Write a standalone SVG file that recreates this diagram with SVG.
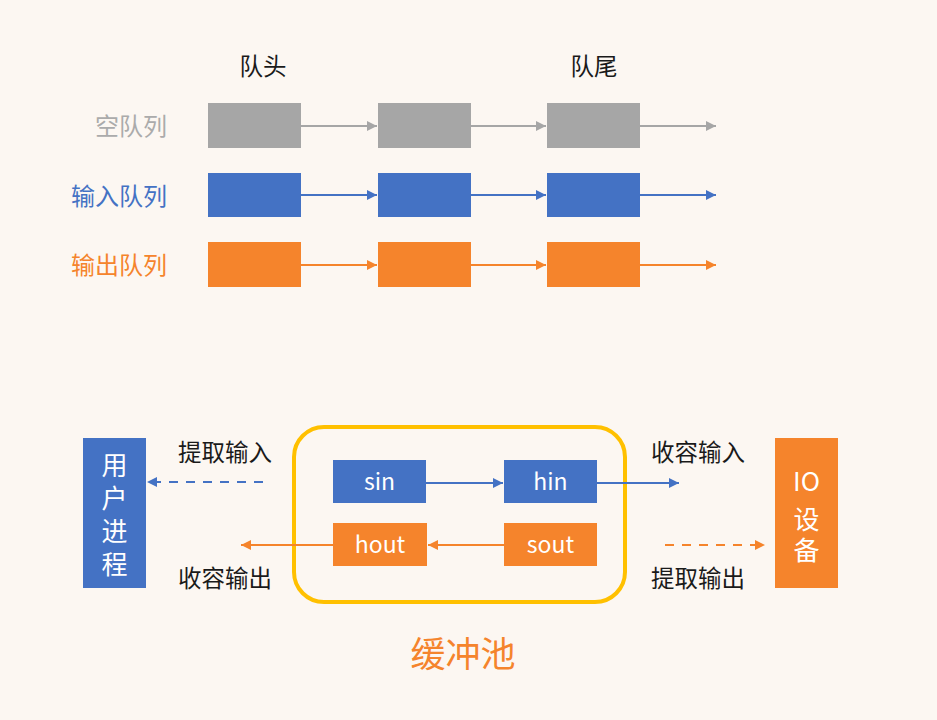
<svg xmlns="http://www.w3.org/2000/svg" width="937" height="720" viewBox="0 0 937 720">
<defs>
<style>
text{font-family:"Noto Sans CJK SC","Noto Sans",sans-serif;}
.lbl{font-size:23.5px;fill:#1a1a1a;}
.g{fill:#a6a6a6;}
.b{fill:#4472c4;}
.o{fill:#f5842c;}
.wt{fill:#ffffff;font-size:23px;text-anchor:middle;}
.vt{fill:#ffffff;font-size:26px;text-anchor:middle;}
.vv{writing-mode:vertical-rl;}
</style>
<marker id="ag" viewBox="0 0 10 10" refX="10" refY="5" markerWidth="5" markerHeight="5" orient="auto"><path d="M0,0L10,5L0,10z" fill="#a6a6a6"/></marker>
<marker id="ab" viewBox="0 0 10 10" refX="10" refY="5" markerWidth="5" markerHeight="5" orient="auto"><path d="M0,0L10,5L0,10z" fill="#4472c4"/></marker>
<marker id="ao" viewBox="0 0 10 10" refX="10" refY="5" markerWidth="5" markerHeight="5" orient="auto"><path d="M0,0L10,5L0,10z" fill="#f5842c"/></marker>
</defs>
<rect width="937" height="720" fill="#fcf7f2"/>

<text class="lbl" x="263" y="75" text-anchor="middle">队头</text>
<text class="lbl" x="594" y="75" text-anchor="middle">队尾</text>
<text x="167" y="135" text-anchor="end" font-size="24" fill="#ababab">空队列</text>
<text x="167" y="205" text-anchor="end" font-size="24" fill="#4472c4">输入队列</text>
<text x="167" y="274" text-anchor="end" font-size="24" fill="#f5842c">输出队列</text>

<g id="empty-queue">
<rect class="g" x="208" y="103" width="93" height="45"/>
<rect class="g" x="378" y="103" width="93" height="45"/>
<rect class="g" x="547" y="103" width="93" height="45"/>
</g>
<g id="input-queue">
<rect class="b" x="208" y="173" width="93" height="44"/>
<rect class="b" x="378" y="173" width="93" height="44"/>
<rect class="b" x="547" y="173" width="93" height="44"/>
</g>
<g id="output-queue">
<rect class="o" x="208" y="242" width="93" height="45"/>
<rect class="o" x="378" y="242" width="93" height="45"/>
<rect class="o" x="547" y="242" width="93" height="45"/>
</g>

<g id="user-process">
<rect class="b" x="83" y="438" width="63" height="150"/>
<text class="vt vv" x="114.5" y="518" letter-spacing="7">用户进程</text>
</g>
<g id="io-device">
<rect class="o" x="775" y="438" width="63" height="150"/>
<text class="vt" x="806.5" y="491">IO</text>
<text class="vt vv" x="806.5" y="537" letter-spacing="5">设备</text>
</g>
<g id="buffer-pool">
<rect x="294" y="427" width="331" height="175" rx="30" fill="none" stroke="#ffc000" stroke-width="4"/>
<text x="463" y="667" text-anchor="middle" font-size="35" fill="#f5842c">缓冲池</text>
</g>
<g id="sin"><rect class="b" x="333" y="460" width="93" height="43"/><text class="wt" x="379.5" y="490">sin</text></g>
<g id="hin"><rect class="b" x="504" y="460" width="93" height="43"/><text class="wt" x="550.5" y="490">hin</text></g>
<g id="hout"><rect class="o" x="333" y="523" width="94" height="43"/><text class="wt" x="380" y="553">hout</text></g>
<g id="sout"><rect class="o" x="504" y="523" width="93" height="43"/><text class="wt" x="550.5" y="553">sout</text></g>

<text class="lbl" x="225" y="461" text-anchor="middle">提取输入</text>
<text class="lbl" x="225" y="587" text-anchor="middle">收容输出</text>
<text class="lbl" x="698" y="461" text-anchor="middle">收容输入</text>
<text class="lbl" x="698" y="587" text-anchor="middle">提取输出</text>

<g id="connectors" fill="none" stroke-width="2">
<line x1="301" y1="126" x2="377" y2="126" stroke="#a6a6a6" marker-end="url(#ag)"/>
<line x1="471" y1="126" x2="546" y2="126" stroke="#a6a6a6" marker-end="url(#ag)"/>
<line x1="640" y1="126" x2="716" y2="126" stroke="#a6a6a6" marker-end="url(#ag)"/>
<line x1="301" y1="195" x2="377" y2="195" stroke="#4472c4" marker-end="url(#ab)"/>
<line x1="471" y1="195" x2="546" y2="195" stroke="#4472c4" marker-end="url(#ab)"/>
<line x1="640" y1="195" x2="716" y2="195" stroke="#4472c4" marker-end="url(#ab)"/>
<line x1="301" y1="265" x2="377" y2="265" stroke="#f5842c" marker-end="url(#ao)"/>
<line x1="471" y1="265" x2="546" y2="265" stroke="#f5842c" marker-end="url(#ao)"/>
<line x1="640" y1="265" x2="716" y2="265" stroke="#f5842c" marker-end="url(#ao)"/>
<line x1="426" y1="483" x2="503" y2="483" stroke="#4472c4" marker-end="url(#ab)"/>
<line x1="597" y1="483" x2="679" y2="483" stroke="#4472c4" marker-end="url(#ab)"/>
<line x1="504" y1="545" x2="428" y2="545" stroke="#f5842c" marker-end="url(#ao)"/>
<line x1="333" y1="545" x2="241" y2="545" stroke="#f5842c" marker-end="url(#ao)"/>
<line x1="263" y1="482" x2="147" y2="482" stroke="#4472c4" stroke-dasharray="9,8" marker-end="url(#ab)"/>
<line x1="665" y1="545" x2="765" y2="545" stroke="#f5842c" stroke-dasharray="9,8" marker-end="url(#ao)"/>
</g>
</svg>
